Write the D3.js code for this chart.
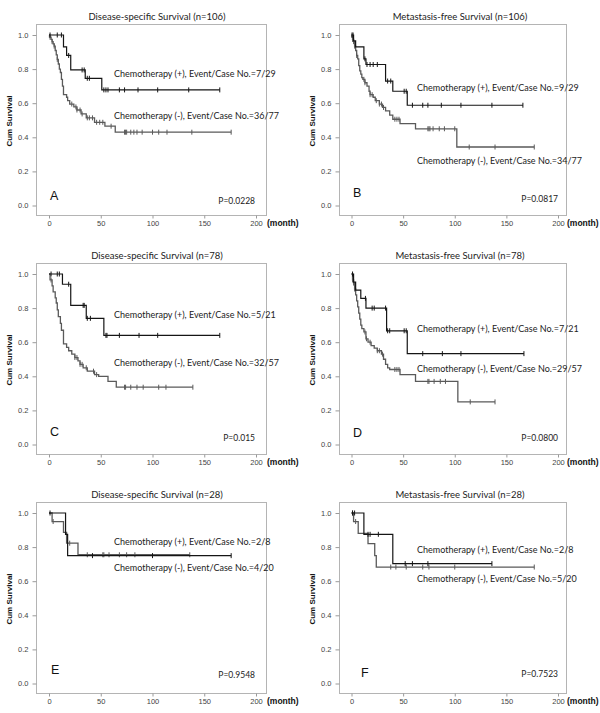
<!DOCTYPE html>
<html><head><meta charset="utf-8">
<script src="https://cdn.jsdelivr.net/npm/d3@7/dist/d3.min.js"></script>
<style>body{margin:0;background:#fff}</style>
</head><body><svg id="c" width="600" height="713"></svg>
<script>
// ---------------- data ----------------
const panelTitles = ["Disease-specific Survival (n=106)", "Metastasis-free Survival (n=106)",
  "Disease-specific Survival (n=78)", "Metastasis-free Survival (n=78)",
  "Disease-specific Survival (n=28)", "Metastasis-free Survival (n=28)"];
const panelLetters = ["A", "B", "C", "D", "E", "F"];
const pValues = ["P=0.0228", "P=0.0817", "P=0.015", "P=0.0800", "P=0.9548", "P=0.7523"];
const plusLabels = ["Chemotherapy (+), Event/Case No.=7/29", "Chemotherapy (+), Event/Case No.=9/29",
  "Chemotherapy (+), Event/Case No.=5/21", "Chemotherapy (+), Event/Case No.=7/21",
  "Chemotherapy (+), Event/Case No.=2/8", "Chemotherapy (+), Event/Case No.=2/8"];
const minusLabels = ["Chemotherapy (-), Event/Case No.=36/77", "Chemotherapy (-), Event/Case No.=34/77",
  "Chemotherapy (-), Event/Case No.=32/57", "Chemotherapy (-), Event/Case No.=29/57",
  "Chemotherapy (-), Event/Case No.=4/20", "Chemotherapy (-), Event/Case No.=5/20"];
const xTicks = [0, 50, 100, 150, 200];
const yTicks = [0, 0.2, 0.4, 0.6, 0.8, 1.0];

// Kaplan-Meier steps: [month, survival after the drop]; censor times in months
const aPlusSteps = [[14,0.93],[17,0.88],[21,0.795],[35,0.746],[51,0.678]];
const aPlusCensor = [1,8,12,19,32,34,37,39,53,55,57,68,73,86,105,135,165];
const aMinusSteps = [[0.5,0.987],[2,0.974],[3,0.961],[4,0.948],[5,0.935],[6,0.909],[7,0.883],[8,0.857],[9,0.83],[10,0.80],[11,0.78],[12,0.74],[13,0.70],[14,0.65],[17,0.635],[18,0.615],[20,0.595],[24,0.578],[27,0.56],[31,0.537],[36,0.514],[44,0.488],[54,0.465],[64,0.43]];
const aMinusCensor = [1,3,5,8,22,26,27,30,32,37,39,42,46,49,52,60,73,74,75,79,82,85,90,100,106,114,138,176];

const bPlusSteps = [[2,0.965],[4,0.93],[12,0.86],[14,0.827],[33,0.73],[40,0.67],[54,0.588]];
const bPlusCensor = [0.5,1.5,13,15,18,21,25,35,38,51,53,59,69,74,87,106,136,166];
const bMinusSteps = [[0.5,0.987],[1,0.974],[2,0.961],[3,0.935],[4,0.909],[5,0.88],[6,0.86],[7,0.82],[8,0.79],[9,0.77],[10,0.75],[11,0.74],[13,0.72],[15,0.70],[17,0.67],[18,0.65],[21,0.635],[23,0.615],[27,0.595],[30,0.575],[33,0.555],[37,0.53],[40,0.506],[47,0.48],[62,0.45],[102,0.343]];
const bMinusCensor = [1,2,3,5,12,13,18,20,24,27,29,31,42,44,46,74,75,76,79,85,90,100,114,139,177];

const cPlusSteps = [[13,0.94],[21,0.816],[36,0.74],[53,0.64]];
const cPlusCensor = [2,8,10,19,33,34,37,40,55,56,68,87,105,165];
const cMinusSteps = [[1,0.965],[3,0.93],[4,0.895],[6,0.86],[7,0.83],[8,0.79],[9,0.75],[11,0.71],[12,0.67],[14,0.59],[17,0.57],[19,0.55],[22,0.53],[25,0.51],[28,0.49],[30,0.47],[33,0.45],[37,0.43],[44,0.41],[48,0.40],[57,0.37],[65,0.336]];
const cMinusCensor = [2,25,27,30,32,36,43,46,73,74,79,85,91,106,113,139];

const dPlusSteps = [[2,0.952],[4,0.905],[9,0.857],[14,0.80],[34,0.667],[54,0.533]];
const dPlusCensor = [1,13.5,20,22,33,35,37,51,53,69,88,106,167];
const dMinusSteps = [[1,0.965],[2,0.947],[3,0.912],[4,0.877],[5,0.842],[6,0.807],[7,0.77],[8,0.735],[9,0.70],[10,0.68],[12,0.66],[14,0.62],[16,0.60],[19,0.58],[22,0.565],[25,0.55],[29,0.53],[31,0.50],[33,0.47],[35,0.45],[37,0.44],[47,0.41],[62,0.37],[103,0.25]];
const dMinusCensor = [1,2,3,13,14.5,18,25,27,30,42,44,46,74,75,80,86,91,115,139];

const ePlusSteps = [[16,0.875],[18,0.75]];
const ePlusCensor = [1,42,100,176];
const eMinusSteps = [[3,0.95],[14,0.886],[17,0.823],[28,0.755]];
const eMinusCensor = [4,20,37,52,53,58,68,75,83,136];

const fPlusSteps = [[12,0.875],[40,0.703]];
const fPlusCensor = [1,3,16,18,26,52,59,74,136];
const fMinusSteps = [[2,0.95],[6.5,0.88],[16,0.82],[22.5,0.75],[24,0.683]];
const fMinusCensor = [1,4,38,43,53,69,75,100,177];

const plusSteps = [aPlusSteps,bPlusSteps,cPlusSteps,dPlusSteps,ePlusSteps,fPlusSteps];
const plusCensor = [aPlusCensor,bPlusCensor,cPlusCensor,dPlusCensor,ePlusCensor,fPlusCensor];
const minusSteps = [aMinusSteps,bMinusSteps,cMinusSteps,dMinusSteps,eMinusSteps,fMinusSteps];
const minusCensor = [aMinusCensor,bMinusCensor,cMinusCensor,dMinusCensor,eMinusCensor,fMinusCensor];

// ---------------- layout ----------------
const colGeom = [{boxL:36, boxR:266, x0:49, x200:256}, {boxL:339, boxR:566, x0:351.5, x200:558}];
const rowTop = [24, 263, 502];
const boxH = 191;
const plusLabelDy = [53, 67, 55, 69, 43, 51];
const minusLabelDy = [95, 140, 103, 109, 69, 80];
const letterDx = [14, 14, 14, 14, 15, 22];
const letterDy = [175.5, 173, 173, 174, 172, 175];
const pDy = [180, 178, 178, 178, 176, 175];

const svg = d3.select("#c");
const txtFont = "Lato, 'Liberation Sans', Arial, sans-serif";
const tickFont = "'Liberation Sans', Arial, sans-serif";

function survAt(steps, t) {
  let s = 1;
  for (const [tt, ss] of steps) if (tt <= t) s = ss;
  return s;
}

panelTitles.forEach((title, i) => {
  const col = colGeom[i % 2];
  const top = rowTop[Math.floor(i / 2)];
  const bottom = top + boxH;
  const x = d3.scaleLinear().domain([0, 200]).range([col.x0, col.x200]);
  const y = d3.scaleLinear().domain([0, 1]).range([top + 181.5, top + 11]);
  const g = svg.append("g");

  // frame
  g.append("rect").attr("x", col.boxL + 0.5).attr("y", top + 0.5)
    .attr("width", col.boxR - col.boxL).attr("height", boxH)
    .attr("fill", "none").attr("stroke", "#b4b4b4").attr("stroke-width", 1);

  // axes
  const ya = g.append("g").attr("transform", `translate(${col.boxL + 0.5},0)`)
    .call(d3.axisLeft(y).tickValues(yTicks).tickFormat(d3.format(".1f")).tickSize(4).tickPadding(4));
  const xa = g.append("g").attr("transform", `translate(0,${bottom + 0.5})`)
    .call(d3.axisBottom(x).tickValues(xTicks).tickFormat(d3.format("d")).tickSize(3).tickPadding(2.5));
  [ya, xa].forEach(a => {
    a.select(".domain").remove();
    a.selectAll("line").attr("stroke", "#9a9a9a");
    a.selectAll("text").attr("fill", "#444").style("font-family", tickFont).style("font-size", "7.5px");
  });

  // titles and labels
  g.append("text").attr("x", col.boxL + 121).attr("y", top - 4.5).attr("text-anchor", "middle")
    .style("font-family", txtFont).style("font-size", "9.5px").attr("fill", "#222").text(title);
  g.append("text").attr("transform", `translate(${col.boxL - 24},${top + 97}) rotate(-90)`)
    .attr("text-anchor", "middle").style("font-family", tickFont).style("font-size", "8px")
    .style("font-weight", "bold").attr("fill", "#111").text("Cum Survival");
  g.append("text").attr("x", col.boxR + 1).attr("y", bottom + 11)
    .style("font-family", tickFont).style("font-size", "8.5px").style("font-weight", "bold")
    .attr("fill", "#111").text("(month)");
  g.append("text").attr("x", col.boxL + letterDx[i]).attr("y", top + letterDy[i])
    .style("font-family", tickFont).style("font-size", "12.5px").attr("fill", "#111").text(panelLetters[i]);
  g.append("text").attr("x", col.boxL + 219).attr("y", top + pDy[i]).attr("text-anchor", "end")
    .style("font-family", txtFont).style("font-size", "8.5px").attr("fill", "#222").text(pValues[i]);
  g.append("text").attr("x", col.boxL + 78).attr("y", top + plusLabelDy[i])
    .style("font-family", txtFont).style("font-size", "9px").attr("fill", "#222").text(plusLabels[i]);
  g.append("text").attr("x", col.boxL + 78).attr("y", top + minusLabelDy[i])
    .style("font-family", txtFont).style("font-size", "9px").attr("fill", "#222").text(minusLabels[i]);

  // curves
  const line = d3.line().x(d => x(d[0])).y(d => y(d[1])).curve(d3.curveStepAfter);
  const curves = [
    {steps: minusSteps[i], cens: minusCensor[i], color: "#5a5a5a", w: 1.3},
    {steps: plusSteps[i], cens: plusCensor[i], color: "#151515", w: 1.2}
  ];
  curves.forEach(cv => {
    const last = cv.steps[cv.steps.length - 1];
    const end = Math.max(d3.max(cv.cens), last[0]);
    const pts = [[0, 1], ...cv.steps, [end, last[1]]];
    g.append("path").attr("d", line(pts)).attr("fill", "none")
      .attr("stroke", cv.color).attr("stroke-width", cv.w);
    g.selectAll(null).data(cv.cens).enter().append("line")
      .attr("x1", d => x(d)).attr("x2", d => x(d))
      .attr("y1", d => y(survAt(cv.steps, d)) - 2.5).attr("y2", d => y(survAt(cv.steps, d)) + 2.5)
      .attr("stroke", cv.color).attr("stroke-width", 1);
  });
});
</script>
</body></html>
